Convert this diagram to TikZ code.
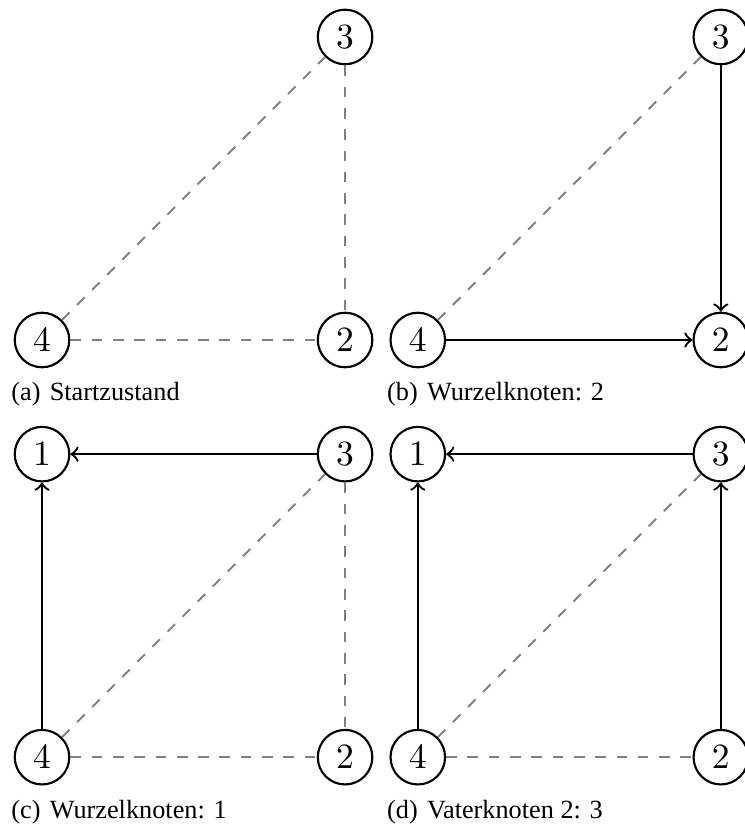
\documentclass[tikz,border=0pt]{standalone}
\usepackage{fontspec}
\newfontfamily\capfont{Liberation Serif}
\usetikzlibrary{positioning}

\begin{document}
\begin{tikzpicture}[
  node distance=3cm, on grid,
  knoten/.style={draw, circle, minimum size=0.54cm, inner sep=0pt, line width=0.6pt},
  kante/.style={dashed, gray, line width=0.55pt},
  pfeil/.style={->, line width=0.65pt},
  subcap/.style={anchor=west, inner sep=0pt, font=\capfont\fontsize{7.4}{9}\selectfont},
  >=to
]
  \useasboundingbox (-0.416,-4.93) rectangle (6.95,3.366);

  % (a) Startzustand
  \node[knoten] (a4) at (0,0) {$4$};
  \node[knoten, right=of a4] (a2) {$2$};
  \node[knoten, above=of a2] (a3) {$3$};
  \draw[kante] (a4) -- (a3);
  \draw[kante] (a3) -- (a2);
  \draw[kante] (a4) -- (a2);
  \node[subcap, below=0.54cm of a4, anchor=west, xshift=-0.31cm] (capa) {(a)\hspace{0.35em}Startzustand};

  % (b) Wurzelknoten 2
  \node[knoten, right=3.72cm of a4] (b4) {$4$};
  \node[knoten, right=of b4] (b2) {$2$};
  \node[knoten, above=of b2] (b3) {$3$};
  \draw[kante] (b4) -- (b3);
  \draw[pfeil] (b3) -- (b2);
  \draw[pfeil] (b4) -- (b2);
  \node[subcap, below=0.54cm of b4, anchor=west, xshift=-0.31cm] (capb) {(b)\hspace{0.35em}Wurzelknoten: 2};

  % (c) Wurzelknoten 1
  \node[knoten, below=4.13cm of a4] (c4) {$4$};
  \node[knoten, right=of c4] (c2) {$2$};
  \node[knoten, above=of c2] (c3) {$3$};
  \node[knoten, above=of c4] (c1) {$1$};
  \draw[pfeil] (c3) -- (c1);
  \draw[pfeil] (c4) -- (c1);
  \draw[kante] (c4) -- (c3);
  \draw[kante] (c3) -- (c2);
  \draw[kante] (c4) -- (c2);
  \node[subcap, below=0.54cm of c4, anchor=west, xshift=-0.31cm] (capc) {(c)\hspace{0.35em}Wurzelknoten: 1};

  % (d) Vaterknoten
  \node[knoten, right=3.72cm of c4] (d4) {$4$};
  \node[knoten, right=of d4] (d2) {$2$};
  \node[knoten, above=of d2] (d3) {$3$};
  \node[knoten, above=of d4] (d1) {$1$};
  \draw[pfeil] (d3) -- (d1);
  \draw[pfeil] (d4) -- (d1);
  \draw[pfeil] (d2) -- (d3);
  \draw[kante] (d4) -- (d3);
  \draw[kante] (d4) -- (d2);
  \node[subcap, below=0.54cm of d4, anchor=west, xshift=-0.31cm] (capd) {(d)\hspace{0.35em}Vaterknoten 2: 3};
\end{tikzpicture}
\end{document}
